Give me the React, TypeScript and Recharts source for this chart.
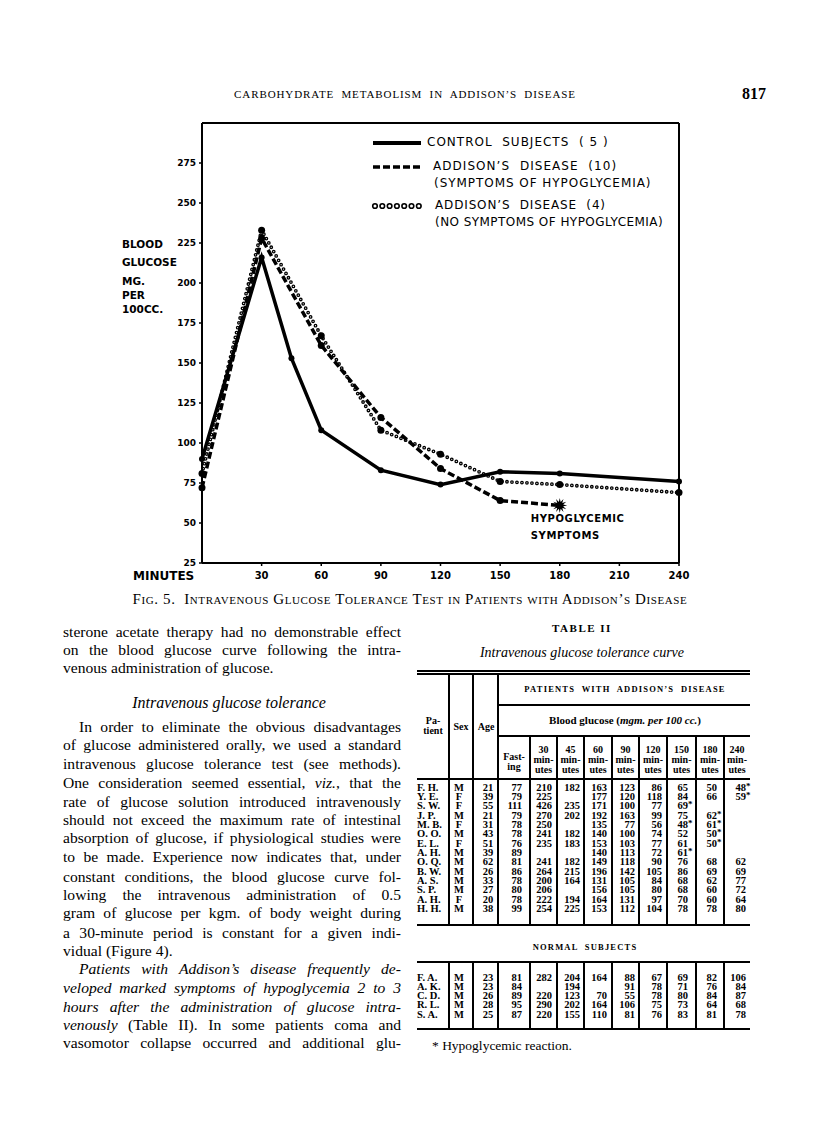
import React from "react"
import { LineChart, Line, XAxis, YAxis, ReferenceLine, ReferenceDot } from "recharts"

// chart values (minutes after start, blood glucose mg. per 100 cc.)
const controlMinutes = [0, 30, 45, 60, 90, 120, 150, 180, 240]
const controlGlucose = [90, 216, 153, 108, 83, 74, 82, 81, 76]
const symptomMinutes = [0, 30, 60, 90, 120, 150, 180]
const symptomGlucose = [72, 228, 161, 116, 84, 64, 61]
const noSymptomMinutes = [0, 30, 60, 90, 120, 150, 180, 240]
const noSymptomGlucose = [81, 233, 167, 108, 93, 76, 74, 69]
const minuteTicks = [30, 60, 90, 120, 150, 180, 210, 240]
const glucoseTicks = [25, 50, 75, 100, 125, 150, 175, 200, 225, 250, 275]
const hypoglycemicPoint = { t: 180, v: 61 }

// table II
const timeHeads = ["30", "45", "60", "90", "120", "150", "180", "240"]
const addisonRows = [
  ["F. H.", "M", "21", "77", "210", "182", "163", "123", "86", "65", "50", "48*"],
  ["Y. E.", "F", "39", "79", "225", "", "177", "120", "118", "84", "66", "59*"],
  ["S. W.", "F", "55", "111", "426", "235", "171", "100", "77", "69*", "", ""],
  ["J. P.", "M", "21", "79", "270", "202", "192", "163", "99", "75", "62*", ""],
  ["M. B.", "F", "31", "78", "250", "", "135", "77", "56", "48*", "61*", ""],
  ["O. O.", "M", "43", "78", "241", "182", "140", "100", "74", "52", "50*", ""],
  ["E. L.", "F", "51", "76", "235", "183", "153", "103", "77", "61", "50*", ""],
  ["A. H.", "M", "39", "89", "", "", "140", "113", "72", "61*", "", ""],
  ["O. Q.", "M", "62", "81", "241", "182", "149", "118", "90", "76", "68", "62"],
  ["B. W.", "M", "26", "86", "264", "215", "196", "142", "105", "86", "69", "69"],
  ["A. S.", "M", "33", "78", "200", "164", "131", "105", "84", "68", "62", "77"],
  ["S. P.", "M", "27", "80", "206", "", "156", "105", "80", "68", "60", "72"],
  ["A. H.", "F", "20", "78", "222", "194", "164", "131", "97", "70", "60", "64"],
  ["H. H.", "M", "38", "99", "254", "225", "153", "112", "104", "78", "78", "80"],
]
const normalRows = [
  ["F. A.", "M", "23", "81", "282", "204", "164", "88", "67", "69", "82", "106"],
  ["A. K.", "M", "23", "84", "", "194", "", "91", "78", "71", "76", "84"],
  ["C. D.", "M", "26", "89", "220", "123", "70", "55", "78", "80", "84", "87"],
  ["R. L.", "M", "28", "95", "290", "202", "164", "106", "75", "73", "64", "68"],
  ["S. A.", "M", "25", "87", "220", "155", "110", "81", "76", "83", "81", "78"],
]

const bodyLines: [React.ReactNode, string][] = [
  ["sterone acetate therapy had no demonstrable effect", "j"],
  ["on the blood glucose curve following the intra-", "j"],
  ["venous administration of glucose.", "l"],
  ["Intravenous glucose tolerance", "h"],
  ["In order to eliminate the obvious disadvantages", "ji"],
  ["of glucose administered orally, we used a standard", "j"],
  ["intravenous glucose tolerance test (see methods).", "j"],
  [<>One consideration seemed essential, <i>viz.</i>, that the</>, "j"],
  ["rate of glucose solution introduced intravenously", "j"],
  ["should not exceed the maximum rate of intestinal", "j"],
  ["absorption of glucose, if physiological studies were", "j"],
  ["to be made.  Experience now indicates that, under", "j"],
  ["constant conditions, the blood glucose curve fol-", "j"],
  ["lowing the intravenous administration of 0.5", "j"],
  ["gram of glucose per kgm. of body weight during", "j"],
  ["a 30-minute period is constant for a given indi-", "j"],
  ["vidual (Figure 4).", "l"],
  [<i>Patients with Addison’s disease frequently de-</i>, "ji"],
  [<i>veloped marked symptoms of hypoglycemia 2 to 3</i>, "j"],
  [<i>hours after the administration of glucose intra-</i>, "j"],
  [<><i>venously</i> (Table II).  In some patients coma and</>, "j"],
  ["vasomotor collapse occurred and additional glu-", "j"],
]
const bodyY = [632, 650, 668, 703, 727, 745, 764, 783, 802, 820, 838, 857, 877, 895, 913, 933, 951, 969, 988, 1007, 1025, 1043]

const controlData = controlMinutes.map((t, i) => ({ t, v: controlGlucose[i] }))
const symptomData = symptomMinutes.map((t, i) => ({ t, v: symptomGlucose[i] }))
const noSymptomData = noSymptomMinutes.map((t, i) => ({ t, v: noSymptomGlucose[i] }))

const hand = "'DejaVu Sans', sans-serif"
const serif = "'Liberation Serif', 'Times New Roman', serif"

function Txt({ x, y, size, children, style, center, lh }: any) {
  const h = lh ?? size * 1.15
  return (
    <div
      style={{
        position: "absolute",
        left: x,
        top: y - h / 2,
        fontSize: size,
        lineHeight: `${h}px`,
        whiteSpace: "pre",
        transform: center ? "translateX(-50%)" : undefined,
        ...style,
      }}
    >
      {children}
    </div>
  )
}

function HLine({ x1, x2, y, w = 1.5 }: any) {
  return <div style={{ position: "absolute", left: x1, top: y - w / 2, width: x2 - x1, height: w, background: "#000" }} />
}
function VLine({ x, y1, y2, w = 1.5 }: any) {
  return <div style={{ position: "absolute", left: x - w / 2, top: y1, width: w, height: y2 - y1, background: "#000" }} />
}

function Star(props: any) {
  const { cx, cy } = props
  const pts: string[] = []
  for (let i = 0; i < 24; i++) {
    const r = i % 2 === 0 ? 7.5 : 3.5
    const a = (Math.PI * i) / 12
    pts.push(`${cx + r * Math.cos(a)},${cy + r * Math.sin(a)}`)
  }
  return (
    <g>
      <polygon points={pts.join(" ")} fill="#000" />
      <text x={cx - 29} y={cy + 17} fontSize={10} fontWeight={700} fontFamily={hand} letterSpacing={0.6}>
        HYPOGLYCEMIC
      </text>
      <text x={cx - 29} y={cy + 34} fontSize={10} fontWeight={700} fontFamily={hand} letterSpacing={0.6}>
        SYMPTOMS
      </text>
    </g>
  )
}

const colRight = [0, 0, 0, 522, 552, 580, 607, 635, 662, 688, 717, 746]
const colEdges = [417, 449, 473, 498, 530, 557, 584, 612, 639, 667, 696, 724, 750]

function TableRow({ row, y }: { row: string[]; y: number }) {
  const fs = { fontFamily: serif, fontWeight: 700 }
  return (
    <>
      <Txt x={417} y={y} size={10.5} lh={9} style={fs}>{row[0]}</Txt>
      <Txt x={459} y={y} size={10.5} lh={9} style={fs} center>{row[1]}</Txt>
      <Txt x={488} y={y} size={10.5} lh={9} style={fs} center>{row[2]}</Txt>
      {row.slice(3).map((cell, k) => {
        if (!cell) return null
        const star = cell.endsWith("*")
        const num = star ? cell.slice(0, -1) : cell
        return (
          <div
            key={k}
            style={{
              position: "absolute",
              right: 816 - colRight[k + 3],
              top: y - 4.5,
              fontSize: 10.5,
              lineHeight: "9px",
              ...fs,
            }}
          >
            {num}
            {star && <span style={{ position: "absolute", left: "100%", top: -1, fontSize: 9 }}>*</span>}
          </div>
        )
      })}
    </>
  )
}

function Chart() {
  return (
    <div style={{ position: "absolute", left: 110, top: 100 }}>
      <LineChart width={600} height={500} margin={{ top: 23, right: 31, bottom: 0, left: 0 }}>
        <XAxis
          dataKey="t"
          type="number"
          domain={[0, 240]}
          ticks={minuteTicks}
          height={37}
          axisLine={{ stroke: "#000", strokeWidth: 2 }}
          tickLine={{ stroke: "#000", strokeWidth: 1.5 }}
          tickSize={3}
          tickMargin={6}
          tick={{ fill: "#000", fontSize: 10, fontWeight: 700, fontFamily: hand }}
        />
        <YAxis
          dataKey="v"
          type="number"
          domain={[25, 300]}
          ticks={glucoseTicks}
          width={92}
          axisLine={{ stroke: "#000", strokeWidth: 2 }}
          tickLine={{ stroke: "#000", strokeWidth: 1.5 }}
          tickSize={3}
          tickMargin={3}
          tick={{ fill: "#000", fontSize: 9, fontWeight: 700, fontFamily: hand }}
        />
        <ReferenceLine y={300} stroke="#000" strokeWidth={2} />
        <ReferenceLine x={240} stroke="#000" strokeWidth={2} />
        <Line
          data={noSymptomData}
          dataKey="v"
          type="linear"
          stroke="#000"
          strokeWidth={3.8}
          strokeDasharray="0 5"
          strokeLinecap="round"
          dot={{ r: 3.5, fill: "#000", stroke: "none" }}
          isAnimationActive={false}
        />
        <Line
          data={noSymptomData}
          dataKey="v"
          type="linear"
          stroke="#fff"
          strokeWidth={1.2}
          strokeDasharray="0 5"
          strokeLinecap="round"
          dot={false}
          isAnimationActive={false}
        />
        <Line
          data={symptomData}
          dataKey="v"
          type="linear"
          stroke="#000"
          strokeWidth={3.5}
          strokeDasharray="7 3"
          dot={{ r: 3.5, fill: "#000", stroke: "none" }}
          isAnimationActive={false}
        />
        <Line
          data={controlData}
          dataKey="v"
          type="linear"
          stroke="#000"
          strokeWidth={3.5}
          dot={{ r: 3, fill: "#000", stroke: "none" }}
          isAnimationActive={false}
        />
        <ReferenceDot x={hypoglycemicPoint.t} y={hypoglycemicPoint.v} shape={Star} />
      </LineChart>
    </div>
  )
}

function LegendOverlay() {
  const ts = { fontFamily: hand, fontSize: 12 }
  return (
    <>
      <svg style={{ position: "absolute", left: 0, top: 0 }} width={816} height={260}>
        <line x1={373} x2={421} y1={143} y2={143} stroke="#000" strokeWidth={4} />
        <line x1={373} x2={421} y1={167} y2={167} stroke="#000" strokeWidth={3.5} strokeDasharray="7 3" />
        {[0, 1, 2, 3, 4, 5, 6].map((i) => (
          <circle key={i} cx={375 + i * 7.3} cy={206} r={2.3} fill="#fff" stroke="#000" strokeWidth={1.6} />
        ))}
      </svg>
      <Txt x={427} y={143} size={12} style={{ ...ts, letterSpacing: 1 }}>CONTROL  SUBJECTS  ( 5 )</Txt>
      <Txt x={433} y={167} size={12} style={{ ...ts, letterSpacing: 1.05 }}>ADDISON’S  DISEASE  (10)</Txt>
      <Txt x={434} y={184} size={12} style={{ ...ts, letterSpacing: 0.95 }}>(SYMPTOMS OF HYPOGLYCEMIA)</Txt>
      <Txt x={435} y={206} size={12} style={{ ...ts, letterSpacing: 0.85 }}>ADDISON’S  DISEASE  (4)</Txt>
      <Txt x={435} y={223} size={12} style={{ ...ts, letterSpacing: 0.45 }}>(NO SYMPTOMS OF HYPOGLYCEMIA)</Txt>
      {["BLOOD", "GLUCOSE", "MG.", "PER", "100CC."].map((s, i) => (
        <Txt key={s} x={122} y={[244, 262, 281, 295, 309][i]} size={10.5} lh={12} style={{ fontFamily: hand, fontWeight: 700 }}>
          {s}
        </Txt>
      ))}
      <Txt x={133} y={577} size={12} style={{ fontFamily: hand, fontWeight: 700 }}>MINUTES</Txt>
    </>
  )
}

function TableII() {
  const hs = { fontFamily: serif, fontWeight: 700 }
  const ay = addisonRows.map((_, i) => 787 + i * 9.35)
  const ny = normalRows.map((_, i) => 977 + i * 9.3)
  return (
    <>
      <Txt x={582} y={628} size={11} center style={{ fontFamily: serif, fontWeight: 700, letterSpacing: 1.5 }}>TABLE II</Txt>
      <Txt x={582} y={653} size={14} center style={{ fontFamily: serif, fontStyle: "italic" }}>Intravenous glucose tolerance curve</Txt>
      <HLine x1={417} x2={750} y={671} w={1.3} />
      <HLine x1={417} x2={750} y={674} w={1.3} />
      <Txt x={625} y={690} size={8.5} center style={{ fontFamily: serif, fontWeight: 700, letterSpacing: 1.2 }}>PATIENTS  WITH  ADDISON’S  DISEASE</Txt>
      <HLine x1={498} x2={750} y={705} />
      <Txt x={625} y={720} size={11} center style={{ fontFamily: serif, fontWeight: 700 }}>
        Blood glucose (<i>mgm. per 100 cc.</i>)
      </Txt>
      <HLine x1={498} x2={750} y={736} />
      <Txt x={433} y={721} size={10} lh={10} center style={hs}>Pa-</Txt>
      <Txt x={433} y={731} size={10} lh={10} center style={hs}>tient</Txt>
      <Txt x={461} y={727} size={10} lh={10} center style={hs}>Sex</Txt>
      <Txt x={486} y={727} size={10} lh={10} center style={hs}>Age</Txt>
      <Txt x={514} y={757} size={10} lh={10} center style={hs}>Fast-</Txt>
      <Txt x={514} y={767} size={10} lh={10} center style={hs}>ing</Txt>
      {timeHeads.map((h, k) => {
        const cx = (colEdges[k + 4] + colEdges[k + 5]) / 2
        return (
          <React.Fragment key={h}>
            <Txt x={cx} y={750} size={10} lh={10} center style={hs}>{h}</Txt>
            <Txt x={cx} y={760} size={10} lh={10} center style={hs}>min-</Txt>
            <Txt x={cx} y={770} size={10} lh={10} center style={hs}>utes</Txt>
          </React.Fragment>
        )
      })}
      <HLine x1={417} x2={750} y={779} w={2} />
      {[449, 473, 498].map((x) => <VLine key={x} x={x} y1={675} y2={925} />)}
      {colEdges.slice(4, 12).map((x) => <VLine key={x} x={x} y1={736} y2={925} />)}
      {addisonRows.map((r, i) => <TableRow key={i} row={r} y={ay[i]} />)}
      <HLine x1={417} x2={750} y={925} w={2} />
      <Txt x={585} y={948} size={8.5} center style={{ fontFamily: serif, fontWeight: 700, letterSpacing: 1.2 }}>NORMAL  SUBJECTS</Txt>
      <HLine x1={417} x2={750} y={962} w={2} />
      {colEdges.slice(1, 12).map((x) => <VLine key={x} x={x} y1={962} y2={1029} />)}
      {normalRows.map((r, i) => <TableRow key={i} row={r} y={ny[i]} />)}
      <HLine x1={417} x2={750} y={1029} w={2} />
      <Txt x={432} y={1046} size={13.5} style={{ fontFamily: serif }}>* Hypoglycemic reaction.</Txt>
    </>
  )
}

export default function App() {
  return (
    <div style={{ position: "absolute", left: 0, top: 0, width: 816, height: 1139, background: "#fff", color: "#000", fontFamily: serif, overflow: "hidden" }}>
      <Txt x={405} y={94} size={11} center style={{ fontFamily: serif, letterSpacing: 0.9 }}>CARBOHYDRATE  METABOLISM  IN  ADDISON’S  DISEASE</Txt>
      <Txt x={742} y={94} size={16} style={{ fontFamily: serif, fontWeight: 700 }}>817</Txt>
      <Chart />
      <LegendOverlay />
      <Txt x={410} y={600} size={15} center style={{ fontFamily: serif, fontVariant: "small-caps", letterSpacing: 0.6 }}>
        Fig. 5.  Intravenous Glucose Tolerance Test in Patients with Addison’s Disease
      </Txt>
      {bodyLines.map(([content, kind], i) => {
        const y = bodyY[i]
        if (kind === "h")
          return (
            <Txt key={i} x={229} y={y} size={16} center style={{ fontStyle: "italic" }}>
              {content}
            </Txt>
          )
        const indent = kind === "ji" ? 16 : 0
        return (
          <div
            key={i}
            style={{
              position: "absolute",
              left: 63 + indent,
              top: y - 9,
              width: 338 - indent,
              fontSize: 15.6,
              lineHeight: "18px",
              whiteSpace: "nowrap",
              textAlign: kind === "l" ? "left" : "justify",
              textAlignLast: kind === "l" ? "left" : "justify",
            }}
          >
            {content}
          </div>
        )
      })}
      <TableII />
    </div>
  )
}
